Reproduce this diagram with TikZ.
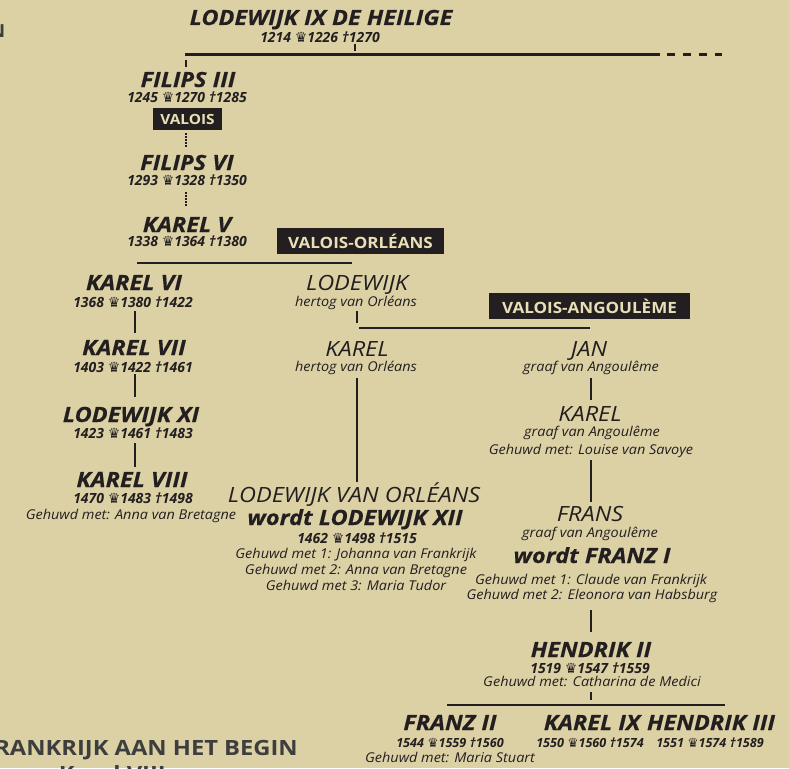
\documentclass[tikz,border=0pt]{standalone}
\usepackage{graphicx}
\usepackage{fontspec}
\setmainfont{Open Sans}
\newfontfamily\bigfont{Open Sans}[FakeStretch=1.12, BoldItalicFeatures={FakeBold=0.25}]
\newfontfamily\smallfont{Open Sans}[FakeStretch=1.07]
\newfontfamily\housefont{Open Sans}[FakeStretch=1.1]
\newfontfamily\pagefont{Open Sans}[FakeStretch=1.13]
\newfontfamily\dvfont{DejaVu Sans}
\definecolor{bg}{HTML}{DCD1A5}
\definecolor{ink}{HTML}{231F20}
\definecolor{cream}{HTML}{E9DFB6}
\definecolor{greytxt}{HTML}{3E3E3E}
\newcommand{\crn}{{\dvfont\scalebox{1.0}{♛}}}
\tikzset{
  king/.style={font=\bigfont\bfseries\itshape\fontsize{21}{21}\selectfont, text=ink, inner sep=0, anchor=base},
  datum/.style={font=\bfseries\itshape\fontsize{14}{14}\selectfont, text=ink, inner sep=0, anchor=base},
  datumsm/.style={datum, font=\bfseries\itshape\fontsize{12.6}{13}\selectfont},
  duke/.style={font=\bigfont\itshape\fontsize{21}{21}\selectfont, text=ink, inner sep=0, anchor=base},
  subt/.style={font=\smallfont\itshape\fontsize{13.5}{14}\selectfont, text=ink, inner sep=0, anchor=base},
  house/.style={fill=ink, text=cream, font=\housefont\bfseries\fontsize{14}{14}\selectfont, inner sep=0, anchor=center},
  conn/.style={draw=ink, line width=2.3},
  dotconn/.style={draw=ink, line width=2, dash pattern=on 1.5 off 1.6},
  partial/.style={font=\pagefont\bfseries\fontsize{21}{21}\selectfont, text=greytxt, inner sep=0, anchor=base east}
}
\begin{document}
\begin{tikzpicture}[x=1pt,y=-1pt]
\fill[bg] (0,0) rectangle (789,768);
\useasboundingbox (0,0) rectangle (789,768);
\clip (0,0) rectangle (789,768);

% partial texts of the surrounding page
\node[partial, font=\pagefont\bfseries\fontsize{18}{18}\selectfont] (topN) at (5.5,37.5) {N};
\node[partial] (bottom1) at (298,755) {FRANKRIJK AAN HET BEGIN};
\node[partial] (bottom2) at (166,781) {van Karel VIII};

% Lodewijk IX
\node[king] (lod9) at (321,25) {LODEWIJK IX DE HEILIGE};
\node[datum] (lod9d) at (320,42) {1214 \crn1226 †1270};
% Filips III
\node[king] (fil3) at (188,87) {FILIPS III};
\node[datum] (fil3d) at (187,102) {1245 \crn1270 †1285};
\node[house, minimum width=69, minimum height=22] (valois) at (187.5,119) {VALOIS};
% Filips VI
\node[king] (fil6) at (187,170) {FILIPS VI};
\node[datum] (fil6d) at (187,185) {1293 \crn1328 †1350};
% Karel V
\node[king] (kar5) at (187,232) {KAREL V};
\node[datum] (kar5d) at (187,246) {1338 \crn1364 †1380};
\node[house, font=\housefont\bfseries\fontsize{15.5}{15.5}\selectfont, minimum width=167, minimum height=26] (vorl) at (360.5,241) {VALOIS-ORLÉANS};
% left column
\node[king] (kar6) at (134,290) {KAREL VI};
\node[datum] (kar6d) at (133,307) {1368 \crn1380 †1422};
\node[king] (kar7) at (134,355) {KAREL VII};
\node[datum] (kar7d) at (133,372) {1403 \crn1422 †1461};
\node[king] (lod11) at (131,422) {LODEWIJK XI};
\node[datum] (lod11d) at (133,438) {1423 \crn1461 †1483};
\node[king] (kar8) at (132,487) {KAREL VIII};
\node[datum] (kar8d) at (133,503) {1470 \crn1483 †1498};
\node[subt] (kar8n) at (131,519.5) {Gehuwd met: Anna van Bretagne};
% Orleans
\node[duke] (lodO) at (357,290) {LODEWIJK};
\node[subt] (lodOt) at (356,306.5) {hertog van Orléans};
\node[house, font=\housefont\bfseries\fontsize{15.5}{15.5}\selectfont, minimum width=201, minimum height=26] (vang) at (589.5,306) {VALOIS-ANGOULÈME};
\node[duke] (karO) at (357,356) {KAREL};
\node[subt] (karOt) at (356,371) {hertog van Orléans};
\node[duke] (lodvo) at (354,502) {LODEWIJK VAN ORLÉANS};
\node[king] (lod12) at (355,525) {wordt LODEWIJK XII};
\node[datum] (lod12d) at (357,543) {1462 \crn1498 †1515};
\node[subt] (lod12a) at (356,558) {Gehuwd met 1: Johanna van Frankrijk};
\node[subt] (lod12b) at (356,574.5) {Gehuwd met 2: Anna van Bretagne};
\node[subt] (lod12c) at (356,590.5) {Gehuwd met 3: Maria Tudor};
% Angouleme
\node[duke] (jan) at (589,356) {JAN};
\node[subt] (jant) at (591,371) {graaf van Angoulême};
\node[duke] (karA) at (590,421) {KAREL};
\node[subt] (karAt) at (592,436) {graaf van Angoulême};
\node[subt] (karAn) at (591,454) {Gehuwd met: Louise van Savoye};
\node[duke] (frans) at (590,521) {FRANS};
\node[subt] (franst) at (590,537) {graaf van Angoulême};
\node[king] (franz1) at (592,563) {wordt FRANZ I};
\node[subt] (franza) at (591,584.5) {Gehuwd met 1: Claude van Frankrijk};
\node[subt] (franzb) at (592,599.5) {Gehuwd met 2: Eleonora van Habsburg};
% Hendrik II
\node[king] (hen2) at (591,657) {HENDRIK II};
\node[datum] (hen2d) at (590,673) {1519 \crn1547 †1559};
\node[subt] (hen2n) at (592,686) {Gehuwd met: Catharina de Medici};
% children
\node[king] (franz2) at (450,730) {FRANZ II};
\node[datumsm] (franz2d) at (450,747) {1544 \crn1559 †1560};
\node[subt] (franz2n) at (450,762) {Gehuwd met: Maria Stuart};
\node[king] (kar9) at (592,730) {KAREL IX};
\node[datumsm] (kar9d) at (590,747) {1550 \crn1560 †1574};
\node[king] (hen3) at (711,730) {HENDRIK III};
\node[datumsm] (hen3d) at (710,747) {1551 \crn1574 †1589};

% junction coordinates
\coordinate (j9a) at (355,44);
\coordinate (j9b) at (355,51);
\coordinate (h9l) at (185,54.5);
\coordinate (h9r) at (660,54.5);
\coordinate (h9d1) at (667,54.5);
\coordinate (h9d2) at (722,54.5);
\coordinate (f3a) at (186,60);
\coordinate (f3b) at (186,67);
\coordinate (v1a) at (186,133);
\coordinate (v1b) at (186,148);
\coordinate (v2a) at (186,192);
\coordinate (v2b) at (186,207);
\coordinate (h5l) at (137,263);
\coordinate (h5r) at (352,263);
\coordinate (k6a) at (135,311);
\coordinate (k6b) at (135,333);
\coordinate (k7a) at (135,374);
\coordinate (k7b) at (135,397);
\coordinate (l11a) at (135,443);
\coordinate (l11b) at (135,467);
\coordinate (loa) at (357,311);
\coordinate (lob) at (357,323);
\coordinate (hol) at (359,328);
\coordinate (hor) at (590,328);
\coordinate (koa) at (357,378);
\coordinate (kob) at (357,482);
\coordinate (ja) at (591,378);
\coordinate (jb) at (591,400);
\coordinate (kaa) at (591,460);
\coordinate (kab) at (591,502);
\coordinate (fa) at (591,610);
\coordinate (fb) at (591,632);
\coordinate (ha) at (591,692);
\coordinate (hb) at (591,700);
\coordinate (hcl) at (447,705);
\coordinate (hcr) at (725,705);

\draw[conn] (j9a) -- (j9b);
\draw[conn] (h9l) -- (h9r);
\draw[conn, dash pattern=on 8 off 8] (h9d1) -- (h9d2);
\draw[conn] (f3a) -- (f3b);
\draw[dotconn] (v1a) -- (v1b);
\draw[dotconn] (v2a) -- (v2b);
\draw[conn] (h5l) -- (h5r);
\draw[conn] (k6a) -- (k6b);
\draw[conn] (k7a) -- (k7b);
\draw[conn] (l11a) -- (l11b);
\draw[conn] (loa) -- (lob);
\draw[conn] (hol) -- (hor);
\draw[conn] (koa) -- (kob);
\draw[conn] (ja) -- (jb);
\draw[conn] (kaa) -- (kab);
\draw[conn] (fa) -- (fb);
\draw[conn] (ha) -- (hb);
\draw[conn] (hcl) -- (hcr);
\end{tikzpicture}
\end{document}
